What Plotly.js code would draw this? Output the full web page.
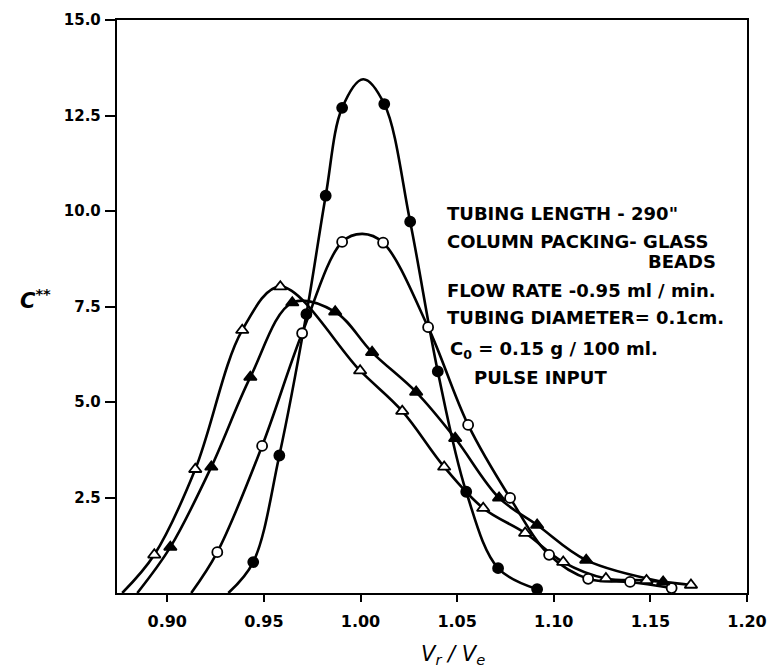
<!DOCTYPE html>
<html>
<head>
<meta charset="utf-8">
<script src="https://cdn.plot.ly/plotly-3.0.1.min.js"></script>
<style>
html,body{margin:0;padding:0;background:#fff;}
#chart{width:769px;height:671px;}
</style>
</head>
<body>
<div id="chart"></div>
<script>
// ---- Data ----
// Filled circles
const fcX = [0.9445, 0.958, 0.972, 0.982, 0.9905, 1.0123, 1.0257, 1.040, 1.0547, 1.0712, 1.0914];
const fcY = [0.81, 3.6, 7.3, 10.4, 12.7, 12.8, 9.72, 5.8, 2.65, 0.65, 0.1];
const fcCurveX = [0.9316, 1.0014];   // extra points on drawn curve (start, peak)
const fcCurveY = [0, 13.45];
// Open circles
const ocX = [0.9259, 0.9491, 0.9698, 0.9905, 1.0117, 1.035, 1.0557, 1.0774, 1.0976, 1.1178, 1.1395, 1.161];
const ocY = [1.07, 3.85, 6.8, 9.19, 9.17, 6.96, 4.4, 2.49, 1.0, 0.37, 0.29, 0.13];
const ocCurveX = [0.9124, 1.001];
const ocCurveY = [0, 9.4];
// Filled triangles
const ftX = [0.9016, 0.9228, 0.943, 0.9647, 0.9869, 1.006, 1.0288, 1.049, 1.0717, 1.0914, 1.1168, 1.1566];
const ftY = [1.2, 3.3, 5.65, 7.6, 7.36, 6.3, 5.26, 4.05, 2.49, 1.78, 0.86, 0.29];
const ftCurveX = [0.8845];
const ftCurveY = [0];
// Open triangles
const otX = [0.8933, 0.9145, 0.9388, 0.9585, 0.9998, 1.0216, 1.0433, 1.0635, 1.0852, 1.1049, 1.127, 1.148, 1.171];
const otY = [1.0, 3.24, 6.88, 8.02, 5.82, 4.76, 3.3, 2.22, 1.57, 0.81, 0.38, 0.33, 0.21];
const otCurveX = [0.8767];
const otCurveY = [0];

const xTickVals = [0.90, 0.95, 1.00, 1.05, 1.10, 1.15, 1.20];
const xTickText = ["0.90", "0.95", "1.00", "1.05", "1.10", "1.15", "1.20"];
const yTickVals = [2.5, 5.0, 7.5, 10.0, 12.5, 15.0];
const yTickText = ["2.5", "5.0", "7.5", "10.0", "12.5", "15.0"];

const noteLines = [
  "TUBING LENGTH - 290\"",
  "COLUMN PACKING- GLASS",
  "BEADS",
  "FLOW RATE -0.95 ml / min.",
  "TUBING DIAMETER= 0.1cm.",
  "C<sub>0</sub> = 0.15 g / 100 ml.",
  "PULSE INPUT"
];

// ---- build curves (markers merged with extra curve points, sorted by x) ----
function curve(mx, my, ex, ey) {
  const pts = mx.map((v, i) => [v, my[i]]).concat(ex.map((v, i) => [v, ey[i]]));
  pts.sort((a, b) => a[0] - b[0]);
  return {x: pts.map(p => p[0]), y: pts.map(p => p[1])};
}

const lineStyle = {color: '#000', width: 2.6, shape: 'spline', smoothing: 1.0};
const series = [
  {mx: fcX, my: fcY, ex: fcCurveX, ey: fcCurveY, sym: 'circle', fill: '#000', size: 10},
  {mx: ocX, my: ocY, ex: ocCurveX, ey: ocCurveY, sym: 'circle', fill: '#fff', size: 10},
  {mx: ftX, my: ftY, ex: ftCurveX, ey: ftCurveY, sym: 'triangle-up', fill: '#000', size: 11},
  {mx: otX, my: otY, ex: otCurveX, ey: otCurveY, sym: 'triangle-up', fill: '#fff', size: 11}
];

const traces = [];
series.forEach(s => {
  const c = curve(s.mx, s.my, s.ex, s.ey);
  traces.push({x: c.x, y: c.y, type: 'scatter', mode: 'lines', line: lineStyle, hoverinfo: 'skip', showlegend: false});
});
series.forEach(s => {
  traces.push({x: s.mx, y: s.my, type: 'scatter', mode: 'markers', showlegend: false,
    marker: {symbol: s.sym, size: s.size, color: s.fill, line: {color: '#000', width: 1.8}}});
});

const L = 117, R = 747, T = 20, B = 593;
function px(x) { return (x - L) / (R - L); }
function py(y) { return (B - y) / (B - T); }

const noteFont = {family: 'DejaVu Sans', size: 18, color: '#000', weight: 'bold'};
const notePos = [
  [445, 213, 'left'], [445, 242, 'left'], [718, 261, 'right'], [445, 290, 'left'],
  [445, 318, 'left'], [448, 350, 'left'], [472, 377, 'left']
];
const annotations = noteLines.map((t, i) => ({
  text: t, xref: 'paper', yref: 'paper', x: px(notePos[i][0]), y: py(notePos[i][1]),
  xanchor: notePos[i][2], yanchor: 'middle', showarrow: false, font: noteFont
}));
annotations.push({
  text: 'C<sup>**</sup>', xref: 'paper', yref: 'paper', x: px(53), y: py(299),
  xanchor: 'right', yanchor: 'middle', showarrow: false,
  font: {family: 'DejaVu Sans', size: 21, color: '#000', style: 'italic', weight: 'bold'}
});
annotations.push({
  text: 'V<sub>r</sub> / V<sub>e</sub>', xref: 'paper', yref: 'paper', x: px(453), y: py(655),
  xanchor: 'center', yanchor: 'middle', showarrow: false,
  font: {family: 'DejaVu Sans', size: 21, color: '#000', style: 'italic'}
});

const layout = {
  width: 769, height: 671,
  margin: {l: L, r: 769 - R, t: T, b: 671 - B, pad: 0},
  paper_bgcolor: '#fff', plot_bgcolor: '#fff',
  showlegend: false,
  xaxis: {
    range: [0.874, 1.20], showgrid: false, zeroline: false,
    showline: true, linecolor: '#000', linewidth: 2.2, mirror: true,
    ticks: 'outside', ticklen: 7, tickwidth: 2, tickcolor: '#000',
    tickvals: xTickVals, ticktext: xTickText, ticklabelstandoff: 6,
    tickfont: {family: 'DejaVu Sans', size: 16, color: '#000', weight: 'bold'}
  },
  yaxis: {
    range: [0, 15], showgrid: false, zeroline: false,
    showline: true, linecolor: '#000', linewidth: 2.2, mirror: true,
    ticks: 'outside', ticklen: 10, tickwidth: 2, tickcolor: '#000',
    tickvals: yTickVals, ticktext: yTickText, ticklabelstandoff: 1,
    tickfont: {family: 'DejaVu Sans', size: 15, color: '#000', weight: 'bold'}
  },
  annotations: annotations
};

Plotly.newPlot('chart', traces, layout, {displayModeBar: false, staticPlot: true});
</script>
</body>
</html>
